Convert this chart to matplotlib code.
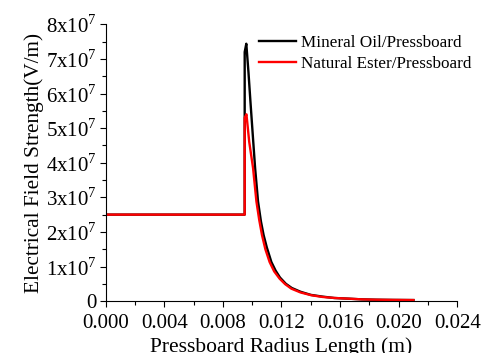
import matplotlib
matplotlib.use('Agg')
import matplotlib.pyplot as plt
from matplotlib.ticker import MultipleLocator, FixedLocator

plt.rcParams['font.family'] = ['Liberation Serif', 'DejaVu Serif']
plt.rcParams['mathtext.fontset'] = 'custom'
plt.rcParams['mathtext.rm'] = 'Liberation Serif'

# radius (m) and field strength (units of 1e7 V/m)
oil_r = [0.0, 0.00949, 0.00949, 0.00960, 0.00975, 0.00988, 0.01005, 0.01020,
         0.01040, 0.01060, 0.01078, 0.01100, 0.01131, 0.01160, 0.01190,
         0.01230, 0.01270, 0.01330, 0.01400, 0.01480, 0.01560, 0.01660,
         0.01750, 0.01850, 0.01950, 0.02100]
oil_e = [2.5, 2.5, 7.2, 7.44, 6.6, 5.78, 4.75, 3.85,
         2.88, 2.30, 1.91, 1.55, 1.13, 0.88, 0.68,
         0.50, 0.38, 0.27, 0.18, 0.13, 0.09, 0.07,
         0.05, 0.04, 0.035, 0.03]

ester_r = [0.0, 0.00949, 0.00949, 0.00961, 0.00980, 0.01006, 0.01029, 0.01048,
           0.01067, 0.01090, 0.01119, 0.01150, 0.01187, 0.01225, 0.01267,
           0.01330, 0.01403, 0.01480, 0.01562, 0.01660, 0.01750, 0.01850,
           0.01950, 0.02100]
ester_e = [2.5, 2.5, 5.3, 5.4, 4.6, 3.85, 2.88, 2.35,
           1.91, 1.50, 1.13, 0.86, 0.65, 0.49, 0.36,
           0.25, 0.17, 0.12, 0.09, 0.07, 0.05, 0.04,
           0.035, 0.03]

y_ticks = [0, 1, 2, 3, 4, 5, 6, 7, 8]
y_labels = ['0'] + [f'{v}x10$^{{\\mathregular{{7}}}}$' for v in y_ticks[1:]]

fig = plt.figure(figsize=(4.82, 3.53), dpi=100)
ax = fig.add_axes([0.219, 0.147, 0.730, 0.784])

ax.plot(oil_r, [v * 1e7 for v in oil_e], color='black', lw=1.7,
        label='Mineral Oil/Pressboard')
ax.plot(ester_r, [v * 1e7 for v in ester_e], color='red', lw=1.7,
        label='Natural Ester/Pressboard')

ax.set_xlim(0, 0.024)
ax.set_ylim(0, 8e7)
ax.xaxis.set_major_locator(MultipleLocator(0.004))
ax.xaxis.set_minor_locator(MultipleLocator(0.002))
ax.set_xticklabels([f'{t:.3f}' for t in ax.get_xticks()])
ax.yaxis.set_major_locator(FixedLocator([v * 1e7 for v in y_ticks]))
ax.yaxis.set_minor_locator(MultipleLocator(0.5e7))
ax.set_yticklabels(y_labels)

ax.spines['top'].set_visible(False)
ax.spines['right'].set_visible(False)
ax.tick_params(which='major', direction='out', length=4.5, width=0.8, labelsize=15, pad=2)
ax.tick_params(which='minor', direction='out', length=3, width=0.8)
ax.tick_params(axis='x', which='major', pad=5)

ax.set_xlabel('Pressboard Radius Length (m)', fontsize=15.5, labelpad=3)
ax.set_ylabel('Electrical Field Strength(V/m)', fontsize=15.3, labelpad=1)

ax.legend(loc='upper left', bbox_to_anchor=(0.416, 0.985), frameon=False,
          fontsize=12.3, handlelength=2.2, handletextpad=0.25,
          labelspacing=0.3, borderaxespad=0)

fig.savefig('out.png', dpi=100)
